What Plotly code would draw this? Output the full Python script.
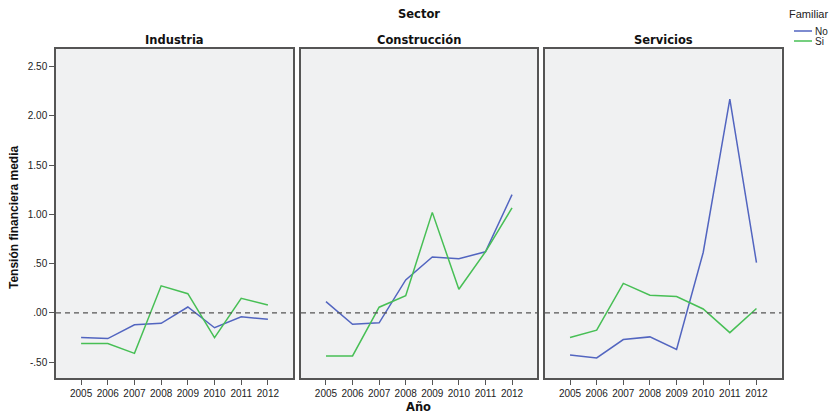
import plotly.graph_objects as go
from plotly.subplots import make_subplots

years = [2005, 2006, 2007, 2008, 2009, 2010, 2011, 2012]
sectors = ["Industria", "Construcción", "Servicios"]

# Mean financial tension by year, per sector, for non-family (No) and family (Si) firms
industria_no = [-0.25, -0.26, -0.12, -0.105, 0.06, -0.15, -0.04, -0.065]
industria_si = [-0.31, -0.31, -0.41, 0.275, 0.195, -0.25, 0.148, 0.08]
construccion_no = [0.115, -0.115, -0.10, 0.335, 0.568, 0.55, 0.62, 1.20]
construccion_si = [-0.436, -0.436, 0.058, 0.175, 1.02, 0.24, 0.62, 1.065]
servicios_no = [-0.426, -0.456, -0.27, -0.243, -0.37, 0.613, 2.168, 0.51]
servicios_si = [-0.25, -0.175, 0.30, 0.18, 0.166, 0.04, -0.20, 0.045]

series_no = [industria_no, construccion_no, servicios_no]
series_si = [industria_si, construccion_si, servicios_si]
group_names = ["No", "Si"]

y_ticks = [-0.5, 0.0, 0.5, 1.0, 1.5, 2.0, 2.5]
y_tick_text = ["-.50", ".00", ".50", "1.00", "1.50", "2.00", "2.50"]

blue = "#5265c0"
green = "#47bf55"
frame = "#555555"
font = "Liberation Sans, Arial, sans-serif"
head_font = "DejaVu Sans, Verdana, sans-serif"
W, H = 833, 414

fig = make_subplots(rows=1, cols=3, shared_yaxes=True)

x_domains = [(56 / W, 293 / W), (301 / W, 537 / W), (545 / W, 781.5 / W)]
y_domain = (1 - 378 / H, 1 - 49 / H)

for i in range(3):
    col = i + 1
    fig.add_trace(go.Scatter(x=years, y=series_no[i], mode="lines", name=group_names[0],
                             line=dict(color=blue, width=1.5)), row=1, col=col)
    fig.add_trace(go.Scatter(x=years, y=series_si[i], mode="lines", name=group_names[1],
                             line=dict(color=green, width=1.5)), row=1, col=col)
    xa = "xaxis" if i == 0 else f"xaxis{col}"
    ya = "yaxis" if i == 0 else f"yaxis{col}"
    fig.layout[xa].update(
        domain=x_domains[i], range=[2004.06, 2012.94], tickvals=years,
        ticks="outside", ticklen=5, tickcolor=frame, tickwidth=1,
        showgrid=False, zeroline=False, showline=True, mirror=True,
        linecolor=frame, linewidth=1.5,
        tickfont=dict(family=font, size=10, color="#222222"),
    )
    fig.layout[ya].update(
        domain=y_domain, range=[-0.66, 2.677], showgrid=False, zeroline=False,
        showline=True, mirror=True, linecolor=frame, linewidth=1.5,
        tickvals=y_ticks, ticktext=y_tick_text,
        ticks="outside" if i == 0 else "", ticklen=5, tickcolor=frame,
        showticklabels=(i == 0),
        tickfont=dict(family=font, size=10, color="#222222"),
    )
    # dashed reference line at zero
    fig.add_shape(type="line", xref=f"x{'' if i == 0 else col} domain",
                  yref=f"y{'' if i == 0 else col}", x0=0, x1=1, y0=0, y1=0,
                  line=dict(color=frame, width=1.3, dash="5px,4px"), layer="above")
    # panel titles
    fig.add_annotation(text=f"<b>{sectors[i]}</b>", xref="paper", yref="paper",
                       x=sum(x_domains[i]) / 2, y=1 - 40 / H, showarrow=False,
                       xanchor="center", yanchor="middle",
                       font=dict(family=head_font, size=11.5, color="#111111"))

title_font = dict(family=font, size=12, color="#111111")
fig.add_annotation(text="<b>Sector</b>", xref="paper", yref="paper",
                   x=419 / W, y=1 - 14 / H, showarrow=False,
                   xanchor="center", yanchor="middle",
                   font=dict(family=head_font, size=11.5, color="#111111"))
fig.add_annotation(text="<b>Año</b>", xref="paper", yref="paper",
                   x=419 / W, y=1 - 407 / H, showarrow=False,
                   xanchor="center", yanchor="middle",
                   font=dict(family=head_font, size=11.5, color="#111111"))
fig.add_annotation(text="<b>Tensión financiera media</b>", xref="paper", yref="paper",
                   x=14 / W, y=1 - 218 / H, showarrow=False, textangle=-90,
                   xanchor="center", yanchor="middle", font=title_font)

# Legend: "Familiar" title with a short line key per group
fig.add_annotation(text="Familiar", xref="paper", yref="paper",
                   x=808 / W, y=1 - 14 / H, showarrow=False,
                   xanchor="center", yanchor="middle",
                   font=dict(family=font, size=11, color="#222222"))
for name, color, ky in [(group_names[0], blue, 31), (group_names[1], green, 41)]:
    fig.add_shape(type="line", xref="paper", yref="paper",
                  x0=794 / W, x1=812 / W, y0=1 - ky / H, y1=1 - ky / H,
                  line=dict(color=color, width=1.5))
    fig.add_annotation(text=name, xref="paper", yref="paper",
                       x=813 / W, y=1 - ky / H, showarrow=False,
                       xanchor="left", yanchor="middle",
                       font=dict(family=font, size=10, color="#222222"))

fig.update_layout(
    width=W, height=H,
    margin=dict(l=0, r=0, t=0, b=0),
    paper_bgcolor="white",
    plot_bgcolor="#f0f1f2",
    showlegend=False,
)

fig.write_html("out.html")
